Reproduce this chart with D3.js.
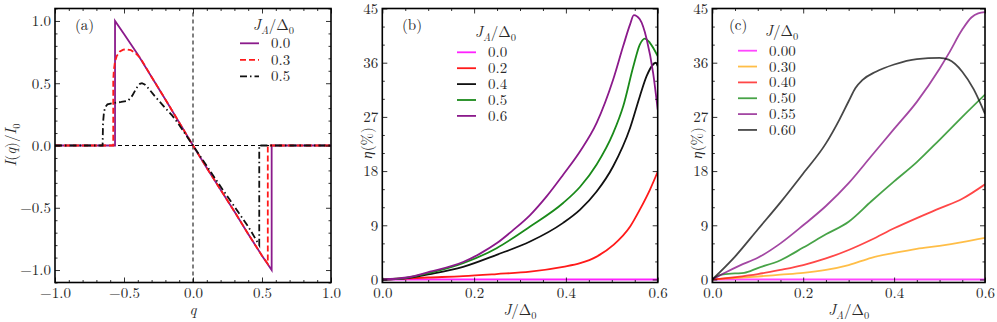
<!DOCTYPE html>
<html><head><meta charset="utf-8">
<script src="https://cdn.jsdelivr.net/npm/d3@7"></script>
<style>
body{margin:0;background:#fff}
</style></head><body>
<svg id="chart" width="997" height="322"></svg>
<script>
// ---------- Panel (a) data: I(q)/I0 vs q ----------
const aLabels = ["0.0", "0.3", "0.5"];
const aQ00 = [-1.0,-0.565,-0.565,-0.5,-0.4,-0.3,-0.2,-0.1,0,0.1,0.2,0.3,0.4,0.5,0.57,0.57,1.0];
const aI00 = [0,0,1.0,0.895,0.73,0.55,0.37,0.185,0,-0.18,-0.355,-0.53,-0.71,-0.885,-1.0,0,0];
const aQ03 = [-1.0,-0.578,-0.578,-0.574,-0.566,-0.552,-0.53,-0.505,-0.48,-0.45,-0.42,-0.38,-0.3,-0.2,-0.1,0,0.1,0.2,0.3,0.4,0.5,0.542,0.542,1.0];
const aI03 = [0,0,0.52,0.6,0.67,0.72,0.755,0.77,0.772,0.765,0.745,0.7,0.55,0.37,0.185,0,-0.18,-0.355,-0.53,-0.71,-0.885,-0.95,0,0];
const aQ05 = [-1.0,-0.655,-0.652,-0.645,-0.635,-0.62,-0.58,-0.52,-0.47,-0.44,-0.41,-0.385,-0.37,-0.35,-0.32,-0.28,-0.24,-0.2,-0.15,-0.1,0,0.1,0.2,0.3,0.4,0.48,0.48,1.0];
const aI05 = [0,0,0.18,0.27,0.31,0.33,0.34,0.35,0.36,0.4,0.46,0.495,0.5,0.49,0.455,0.4,0.35,0.3,0.24,0.165,0,-0.165,-0.33,-0.49,-0.65,-0.8,0,0];
const aXTicks = [-1.0,-0.5,0.0,0.5,1.0];
const aYTicks = [-1.0,-0.5,0.0,0.5,1.0];

// ---------- Panel (b) data: eta(%) vs J/Delta0 ----------
const bLabels = ["0.0","0.2","0.4","0.5","0.6"];
const bJ00 = [0,0.6];
const bE00 = [0,0];
const bJ02 = [0,0.1,0.176,0.249,0.322,0.394,0.431,0.467,0.503,0.54,0.561,0.583,0.6];
const bE02 = [0,0.33,0.55,0.9,1.3,2.1,2.7,3.8,5.7,8.8,11.6,14.9,17.9];
const bJ04 = [0,0.05,0.104,0.176,0.249,0.322,0.394,0.431,0.467,0.503,0.54,0.561,0.576,0.59,0.596,0.6];
const bE04 = [0,0.2,0.9,2.1,4.1,6.3,9.4,11.6,14.6,18.8,25.2,30.4,33.8,35.7,36,35.4];
const bJ05 = [0,0.05,0.104,0.176,0.249,0.322,0.394,0.431,0.467,0.503,0.525,0.547,0.561,0.572,0.583,0.6];
const bE05 = [0,0.25,1.1,2.7,5.2,8.8,12.7,15.4,19.1,24.3,28.8,35.4,39,40,39.3,37.1];
const bJ06 = [0,0.053,0.104,0.176,0.213,0.249,0.285,0.322,0.358,0.394,0.431,0.467,0.503,0.525,0.54,0.548,0.561,0.576,0.59,0.6];
const bE06 = [0,0.33,1.3,2.9,4.3,6,8.2,10.7,13.8,17.4,21.3,26,33.2,38.8,42.4,43.9,43.2,39.9,34.3,28.2];
const etaTicks = [0,9,18,27,36,45];
const jTicks = [0.0,0.2,0.4,0.6];

// ---------- Panel (c) data: eta(%) vs J_A/Delta0 ----------
const cLabels = ["0.00","0.30","0.40","0.50","0.55","0.60"];
const cJ000 = [0,0.6];
const cE000 = [0,0];
const cJ030 = [0,0.1,0.15,0.2,0.25,0.3,0.35,0.4,0.45,0.5,0.55,0.6];
const cE030 = [0,0.5,0.8,1.1,1.6,2.4,3.6,4.4,5.1,5.6,6.2,6.9];
const cJ040 = [0,0.05,0.1,0.15,0.2,0.25,0.3,0.35,0.4,0.45,0.5,0.55,0.6];
const cE040 = [0,0.4,0.9,1.6,2.4,3.5,4.9,6.6,8.5,10.2,11.8,13.4,15.8];
const cJ050 = [0,0.02,0.05,0.07,0.1,0.15,0.2,0.25,0.3,0.35,0.4,0.45,0.5,0.55,0.6];
const cE050 = [0,0.8,1.0,1.1,1.9,3.2,5.3,7.5,9.6,13,16.3,19.5,23.2,27,30.7];
const cJ055 = [0,0.03,0.06,0.1,0.15,0.2,0.25,0.3,0.35,0.4,0.45,0.5,0.52,0.55,0.57,0.585,0.6];
const cE055 = [0,1.2,2.3,3.6,6.0,9,12.2,16,20.5,25,29.5,35,37.5,41.5,43.5,44.2,44.4];
const cJ060 = [0,0.05,0.1,0.15,0.2,0.25,0.28,0.3,0.315,0.33,0.36,0.4,0.45,0.5,0.52,0.55,0.575,0.6];
const cE060 = [0,3.8,8.3,12.8,17.6,22.6,26.6,29.6,31.8,33.1,34.5,35.7,36.6,36.8,36.5,34.5,31.6,27.5];

const svg = d3.select("#chart");
const FS = 15;
const FONT = "'Latin Modern Roman'";
const TXT = "#2a2a2a";

function zip(xs, ys){ return xs.map((x,i)=>[x, ys[i]]); }

function frame(g, x, y, xMajor, xMinor, yMajor, yMinor, xFmt, yFmt){
  const [x0,x1] = x.range(), [y0,y1] = y.range();
  const L = 5, l = 2.5;
  const axes = [
    g.append("g").attr("transform",`translate(0,${y0})`)
      .call(d3.axisBottom(x).tickValues(xMajor).tickSize(-L).tickPadding(5).tickFormat(xFmt)),
    g.append("g").attr("transform",`translate(0,${y0})`)
      .call(d3.axisBottom(x).tickValues(xMinor).tickSize(-l).tickFormat("")),
    g.append("g").attr("transform",`translate(0,${y1})`)
      .call(d3.axisTop(x).tickValues(xMajor).tickSize(-L).tickFormat("")),
    g.append("g").attr("transform",`translate(0,${y1})`)
      .call(d3.axisTop(x).tickValues(xMinor).tickSize(-l).tickFormat("")),
    g.append("g").attr("transform",`translate(${x0},0)`)
      .call(d3.axisLeft(y).tickValues(yMajor).tickSize(-L).tickPadding(4).tickFormat(yFmt)),
    g.append("g").attr("transform",`translate(${x0},0)`)
      .call(d3.axisLeft(y).tickValues(yMinor).tickSize(-l).tickFormat("")),
    g.append("g").attr("transform",`translate(${x1},0)`)
      .call(d3.axisRight(y).tickValues(yMajor).tickSize(-L).tickFormat("")),
    g.append("g").attr("transform",`translate(${x1},0)`)
      .call(d3.axisRight(y).tickValues(yMinor).tickSize(-l).tickFormat(""))
  ];
  axes.forEach(a=>{
    a.attr("font-family",FONT).attr("font-size",FS);
    a.select(".domain").remove();
    a.selectAll("line").attr("stroke","#000").attr("stroke-width",0.8);
    a.selectAll("text").attr("fill",TXT).style("font-family",FONT).style("font-size",FS+"px");
  });
  g.append("rect").attr("x",x0).attr("y",y1).attr("width",x1-x0).attr("height",y0-y1)
    .attr("fill","none").attr("stroke","#000").attr("stroke-width",1.6);
}

function mathText(g, x, y, parts, opts={}){
  const t = g.append("text").attr("x",x).attr("y",y).attr("fill",TXT)
    .attr("text-anchor",opts.anchor||"start")
    .style("font-family",FONT).style("font-size",FS+"px");
  if (opts.rotate) t.attr("transform",`rotate(-90,${x},${y})`);
  parts.forEach(p=>{
    const s = t.append("tspan").text(p.t);
    if (p.i) s.style("font-style","italic");
    if (p.sub) s.style("font-size",(FS*0.7)+"px").attr("dy",4);
    if (p.up) s.attr("dy",-4);
  });
  return t;
}
const JA_D0 = [{t:"J",i:1},{t:"A",i:1,sub:1},{t:"/Δ",up:1},{t:"0",sub:1}];
const J_D0 = [{t:"J",i:1},{t:"/Δ"},{t:"0",sub:1}];

const line = (x,y)=>d3.line().x(d=>x(d[0])).y(d=>y(d[1])).curve(d3.curveLinear);
const smooth = (x,y)=>d3.line().x(d=>x(d[0])).y(d=>y(d[1])).curve(d3.curveMonotoneX);

let clipId = 0;
function clip(g, x, y){
  const id = "clip"+(clipId++);
  const [x0,x1]=x.range(), [y0,y1]=y.range();
  svg.append("defs").append("clipPath").attr("id",id).append("rect")
    .attr("x",x0).attr("y",y1).attr("width",x1-x0).attr("height",y0-y1);
  return g.append("g").attr("clip-path",`url(#${id})`);
}
function label(g,x,y,t){
  return g.append("text").attr("x",x).attr("y",y).attr("fill",TXT)
    .style("font-family",FONT).style("font-size",FS+"px").text(t);
}

// ================= Panel (a) =================
{
  const g = svg.append("g");
  const x = d3.scaleLinear().domain([-1,1]).range([55,331]);
  const y = d3.scaleLinear().domain([-1.1,1.1]).range([282.5,8.5]);
  const cg = clip(g,x,y);
  cg.append("line").attr("x1",x(-1)).attr("x2",x(1)).attr("y1",y(0)).attr("y2",y(0))
    .attr("stroke","#000").attr("stroke-width",1).attr("stroke-dasharray","4,3");
  cg.append("line").attr("x1",x(0)).attr("x2",x(0)).attr("y1",y(-1.1)).attr("y2",y(1.1))
    .attr("stroke","#000").attr("stroke-width",1).attr("stroke-dasharray","4,3");
  const series = [
    {d:zip(aQ00,aI00), c:"#8b1a8b", dash:null},
    {d:zip(aQ03,aI03), c:"#ff1a1a", dash:"6,3"},
    {d:zip(aQ05,aI05), c:"#111", dash:"7,3,1.5,3"}
  ];
  series.forEach(s=>{
    cg.append("path").attr("d",line(x,y)(s.d)).attr("fill","none")
      .attr("stroke",s.c).attr("stroke-width",1.8).attr("stroke-dasharray",s.dash);
  });
  const fmt = d=>d3.format(".1f")(d).replace("-","−");
  const isMajor = v=>Math.abs(v*2-Math.round(v*2))<1e-6;
  frame(g,x,y,aXTicks,d3.range(-10,11).map(v=>v/10).filter(v=>!isMajor(v)),
        aYTicks,d3.range(-11,12).map(v=>v/10).filter(v=>!isMajor(v)),fmt,fmt);
  label(g,75,29.5,"(a)");
  mathText(g,253,30,JA_D0);
  series.forEach((s,i)=>{
    const yy = 43.3 + i*16.5;
    g.append("line").attr("x1",240).attr("x2",259).attr("y1",yy).attr("y2",yy)
      .attr("stroke",s.c).attr("stroke-width",1.8).attr("stroke-dasharray",s.dash);
    label(g,271,yy+5,aLabels[i]);
  });
  mathText(g,193,315,[{t:"q",i:1}],{anchor:"middle"});
  mathText(g,16,145,[{t:"I",i:1},{t:"("},{t:"q",i:1},{t:")/"},{t:"I",i:1},{t:"0",sub:1}],{anchor:"middle",rotate:1});
}

function etaPanel(x0, x1, seriesList, labels, leg, xLabelParts, opacity){
  const g = svg.append("g");
  const x = d3.scaleLinear().domain([0,0.6]).range([x0,x1]);
  const y = d3.scaleLinear().domain([-0.5,45]).range([282.5,8.5]);
  const cg = clip(g,x,y);
  seriesList.forEach(s=>{
    cg.append("path").attr("d",smooth(x,y)(s.d)).attr("fill","none")
      .attr("stroke",s.c).attr("stroke-width",1.8).attr("stroke-opacity",opacity);
  });
  const xMinor = d3.range(0,13).map(v=>v*0.05).filter(v=>Math.abs(v*5-Math.round(v*5))>1e-6);
  const yMinor = d3.range(0,16).map(v=>v*3).filter(v=>v%9!==0);
  frame(g,x,y,jTicks,xMinor,etaTicks,yMinor,d3.format(".1f"),d3.format("d"));
  label(g,leg.px,29.5,leg.panel);
  mathText(g,leg.tx,leg.ty,leg.title);
  seriesList.forEach((s,i)=>{
    const yy = leg.y0 + i*leg.dy;
    g.append("line").attr("x1",leg.lx).attr("x2",leg.lx+19).attr("y1",yy).attr("y2",yy)
      .attr("stroke",s.c).attr("stroke-width",1.8).attr("stroke-opacity",opacity);
    label(g,leg.lx+31,yy+5,labels[i]);
  });
  mathText(g,(x0+x1)/2,315,xLabelParts,{anchor:"middle"});
  mathText(g,x0-10,143,[{t:"η",i:1},{t:"(%)"}],{anchor:"middle",rotate:1});
}

// ================= Panel (b) =================
etaPanel(382.3, 657.7, [
  {d:zip(bJ00,bE00), c:"#ff22ff"},
  {d:zip(bJ02,bE02), c:"#ff1a1a"},
  {d:zip(bJ04,bE04), c:"#111"},
  {d:zip(bJ05,bE05), c:"#1a8a1a"},
  {d:zip(bJ06,bE06), c:"#8b1a8b"}
], bLabels, {panel:"(b)", px:402, tx:475, ty:37, title:JA_D0, lx:457, y0:52.3, dy:15.9}, J_D0, 1);

// ================= Panel (c) =================
etaPanel(712.3, 985, [
  {d:zip(cJ000,cE000), c:"#ff00ff"},
  {d:zip(cJ030,cE030), c:"#ffa500"},
  {d:zip(cJ040,cE040), c:"#ff0000"},
  {d:zip(cJ050,cE050), c:"#008000"},
  {d:zip(cJ055,cE055), c:"#800080"},
  {d:zip(cJ060,cE060), c:"#000000"}
], cLabels, {panel:"(c)", px:729, tx:765, ty:36, title:J_D0, lx:738, y0:50.7, dy:15.85}, JA_D0, 0.72);
</script>
</body></html>
